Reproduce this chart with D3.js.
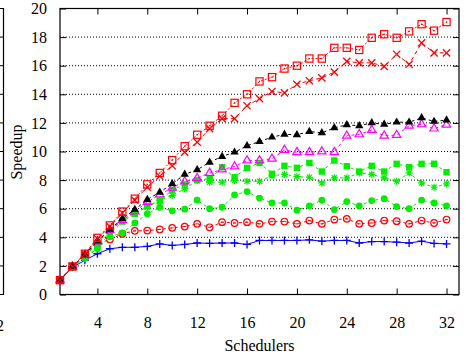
<!DOCTYPE html>
<html>
<head>
<meta charset="utf-8">
<script src="https://cdn.jsdelivr.net/npm/d3@7"></script>
<style>
  body { margin: 0; background: #fff; }
  svg { display: block; font-family: "Liberation Serif", "Times New Roman", serif; }
</style>
</head>
<body>
<svg id="chart" width="470" height="360"></svg>
<script>
// schedulers on the x axis
const schedulers = [1,2,3,4,5,6,7,8,9,10,11,12,13,14,15,16,17,18,19,20,21,22,23,24,25,26,27,28,29,30,31,32]
const xTicks = [4,8,12,16,20,24,28,32]
const yTicks = [0,2,4,6,8,10,12,14,16,18,20]

// speedup series
const redSquares = [1,1.96,2.85,3.96,4.83,5.8,6.7,7.7,8.5,9.4,10.37,11.17,11.8,12.5,13.4,14.0,14.9,15.2,15.8,16.0,16.5,16.5,17.25,17.25,17.1,17.95,18.2,17.95,18.4,18.9,18.45,19.05]
const redCrosses = [1,1.96,2.85,3.9,4.75,5.7,6.6,7.5,8.27,9.0,9.95,10.65,11.6,12.3,12.3,13.2,13.7,14.2,14.1,14.7,14.95,15.15,15.55,16.3,16.2,16.2,15.95,16.8,16.1,17.6,16.9,16.9]
const blackTriangles = [1,1.96,2.8,3.73,4.55,5.3,5.94,6.64,7.15,7.74,8.4,8.72,9.25,9.65,9.95,10.4,10.7,11.0,11.2,11.17,11.4,11.3,11.65,11.87,11.8,12.0,11.9,12.05,12.05,12.35,12.1,12.2]
const magentaTriangles = [1,1.95,2.75,3.7,4.5,5.2,5.8,6.45,7.0,7.46,7.9,8.13,8.5,8.74,8.95,9.37,9.37,9.49,10.1,9.95,9.95,10.0,9.95,11.1,11.2,11.5,11.1,11.15,11.8,11.9,11.6,11.87]
const greenSquares = [1,1.95,2.6,3.3,4.25,5.1,5.64,6.2,6.55,7.3,7.7,8.0,8.1,8.9,8.2,8.86,9.2,8.44,9.0,8.86,9.2,8.6,9.37,8.97,8.6,9.0,8.6,9.14,8.9,9.14,9.14,8.55]
const greenStars = [1,1.95,2.7,3.5,4.4,5.2,5.7,6.1,6.6,6.92,7.4,7.95,7.85,7.85,7.97,7.92,7.92,8.3,8.4,8.25,8.2,7.8,8.16,8.16,8.5,8.4,8.16,7.92,8.5,7.8,7.5,7.74]
const greenCircles = [1,1.9,2.55,3.2,4.05,4.3,5.0,5.64,6.1,5.85,5.97,6.6,6.0,6.1,6.97,7.2,6.74,6.4,6.4,5.9,6.2,6.6,5.94,6.5,6.2,6.57,6.7,6.15,6.0,6.6,6.4,6.2]
const redCircles = [1,1.95,2.75,3.55,3.85,4.25,4.45,4.47,4.55,4.66,4.75,4.94,4.7,5.06,5.0,5.06,4.94,5.1,5.1,4.94,5.17,4.94,5.24,5.29,4.94,5.0,5.17,5.13,4.94,5.17,5.0,5.24]
const bluePluses = [1,1.9,2.4,2.85,3.2,3.3,3.3,3.36,3.54,3.43,3.5,3.6,3.58,3.6,3.6,3.5,3.78,3.78,3.78,3.78,3.82,3.73,3.78,3.78,3.6,3.7,3.7,3.66,3.6,3.73,3.57,3.54]

const svg = d3.select("#chart")
const plotLeft = 60, plotRight = 459, plotTop = 8.5, plotBottom = 294.5

const x = d3.scaleLinear().domain([1, 33]).range([plotLeft, plotRight])
const y = d3.scaleLinear().domain([0, 20]).range([plotBottom, plotTop])

// piece of the neighbouring panel cut off at the left edge
const stub = svg.append("g")
stub.append("path").attr("d", `M0,${plotTop}H3.5V${plotBottom}H0`).attr("fill", "none").attr("stroke", "#000").attr("stroke-width", 1.2)
stub.selectAll("line.t").data(yTicks.slice(1, -1)).join("line")
    .attr("x1", 0).attr("x2", 3.5).attr("y1", d => y(d)).attr("y2", d => y(d))
    .attr("stroke", "#000")
stub.append("text").attr("x", -4).attr("y", 331).attr("text-anchor", "middle")
    .attr("font-size", 16).text("32")

// dotted grid
svg.append("g").selectAll("line").data(yTicks.slice(1, -1)).join("line")
    .attr("x1", plotLeft).attr("x2", plotRight).attr("y1", d => y(d)).attr("y2", d => y(d))
    .attr("stroke", "#000").attr("stroke-width", 1).attr("stroke-dasharray", "1,2")

// axes with inward ticks
const xAxis = d3.axisBottom(x).tickValues(xTicks).tickSizeInner(-6).tickSizeOuter(0).tickPadding(22)
const xTop = d3.axisTop(x).tickValues(xTicks).tickSizeInner(-6).tickSizeOuter(0).tickFormat("")
const yAxis = d3.axisLeft(y).tickValues(yTicks).tickSizeInner(-6).tickSizeOuter(0).tickPadding(13)
const yRight = d3.axisRight(y).tickValues(yTicks).tickSizeInner(-6).tickSizeOuter(0).tickFormat("")

const styleAxis = g => {
    g.select(".domain").remove()
    g.selectAll("text").attr("font-size", 16).attr("fill", "#000")
        .attr("font-family", "Liberation Serif, Times New Roman, serif")
}
svg.append("g").attr("transform", `translate(0,${plotBottom})`).call(xAxis).call(styleAxis)
svg.append("g").attr("transform", `translate(0,${plotTop})`).call(xTop).call(styleAxis)
svg.append("g").attr("transform", `translate(${plotLeft},0)`).call(yAxis).call(styleAxis)
svg.append("g").attr("transform", `translate(${plotRight},0)`).call(yRight).call(styleAxis)

svg.append("rect").attr("x", plotLeft).attr("y", plotTop).attr("width", plotRight - plotLeft).attr("height", plotBottom - plotTop)
    .attr("fill", "none").attr("stroke", "#000").attr("stroke-width", 1.2)

svg.append("text").attr("x", (plotLeft + plotRight) / 2).attr("y", 351).attr("text-anchor", "middle")
    .attr("font-size", 16).text("Schedulers")
svg.append("text").attr("transform", "translate(22,152) rotate(-90)").attr("text-anchor", "middle")
    .attr("font-size", 16).text("Speedup")

// marker shapes
const tri = d3.symbol(d3.symbolTriangle, 30)()
const markers = {
    openSquareDot: (g, c) => {
        g.append("rect").attr("x", -3.6).attr("y", -3.6).attr("width", 7.2).attr("height", 7.2)
            .attr("fill", "none").attr("stroke", c).attr("stroke-width", 1.2)
        g.append("rect").attr("x", -0.7).attr("y", -0.7).attr("width", 1.4).attr("height", 1.4).attr("fill", c)
    },
    cross: (g, c) => g.append("path").attr("d", "M-3.6,-3.6L3.6,3.6M-3.6,3.6L3.6,-3.6")
        .attr("stroke", c).attr("stroke-width", 1.3).attr("fill", "none"),
    triFilled: (g, c) => g.append("path").attr("d", tri).attr("fill", c),
    triOpen: (g, c) => g.append("path").attr("d", tri).attr("fill", "none").attr("stroke", c).attr("stroke-width", 1.2),
    squareFilled: (g, c) => g.append("rect").attr("x", -3.2).attr("y", -3.2).attr("width", 6.4).attr("height", 6.4).attr("fill", c),
    star: (g, c) => g.append("path").attr("d", "M-3.5,0H3.5M0,-3.5V3.5M-2.6,-2.6L2.6,2.6M-2.6,2.6L2.6,-2.6")
        .attr("stroke", c).attr("stroke-width", 1.2).attr("fill", "none"),
    circleFilled: (g, c) => g.append("circle").attr("r", 3.4).attr("fill", c),
    circleOpenBar: (g, c) => {
        g.append("circle").attr("r", 3.3).attr("fill", "none").attr("stroke", c).attr("stroke-width", 1.2)
        g.append("path").attr("d", "M-1.4,0H1.4").attr("stroke", c).attr("stroke-width", 1)
    },
    plus: (g, c) => g.append("path").attr("d", "M-4,0H4M0,-4V4").attr("stroke", c).attr("stroke-width", 1.3)
}

const series = [
    { values: bluePluses, color: "#0000ff", marker: "plus", dash: null },
    { values: redCircles, color: "#ff0000", marker: "circleOpenBar", dash: "3,3" },
    { values: greenCircles, color: "#00ee00", marker: "circleFilled", dash: "3,3" },
    { values: greenStars, color: "#00ee00", marker: "star", dash: "3,3" },
    { values: greenSquares, color: "#00ee00", marker: "squareFilled", dash: "3,3" },
    { values: magentaTriangles, color: "#ff00ff", marker: "triOpen", dash: "3,3" },
    { values: blackTriangles, color: "#000000", marker: "triFilled", dash: "3,3" },
    { values: redCrosses, color: "#ff0000", marker: "cross", dash: "4,3" },
    { values: redSquares, color: "#ff0000", marker: "openSquareDot", dash: "2,2" }
]

const line = d3.line().x((d, i) => x(schedulers[i])).y(d => y(d))

series.forEach(s => {
    const g = svg.append("g")
    g.append("path").attr("d", line(s.values)).attr("fill", "none")
        .attr("stroke", s.color).attr("stroke-width", 1)
        .attr("stroke-dasharray", s.dash)
    g.selectAll("g.pt").data(s.values).join("g").attr("class", "pt")
        .attr("transform", (d, i) => `translate(${x(schedulers[i])},${y(d)})`)
        .each(function () { markers[s.marker](d3.select(this), s.color) })
})
</script>
</body>
</html>
